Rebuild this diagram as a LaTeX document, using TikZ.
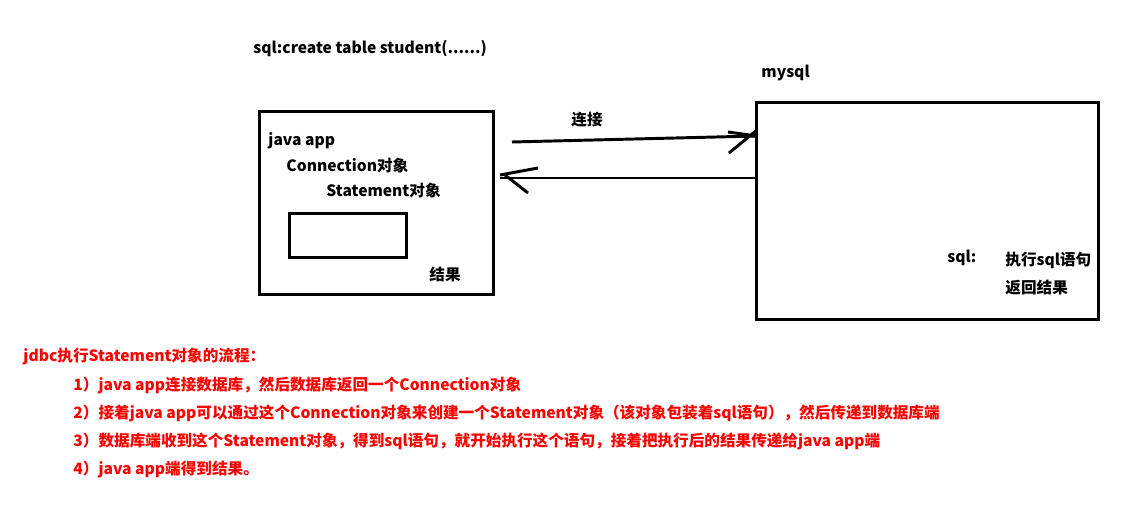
\documentclass[tikz,border=0pt]{standalone}
\usepackage{fontspec}
\setmainfont{Noto Sans CJK SC}
\usepackage{tikz}

\begin{document}
\begin{tikzpicture}[x=0.025cm, y=-0.025cm, line width=2.1pt, every node/.style={font=\fontsize{11.1}{13}\selectfont\bfseries, inner sep=0pt, anchor=west}, box/.style={draw, anchor=north west, inner sep=0pt}, note/.style={text=red}]
	\useasboundingbox (0,0) rectangle (1140,510);
	\node[box, minimum width=5.85cm, minimum height=4.575cm] (app) at (258,110) {};
	\node[box, minimum width=8.55cm, minimum height=5.425cm] (db) at (755,101) {};
	\node[box, minimum width=2.925cm, minimum height=1.1cm] (stmt) at (288,212) {};
	\node (sqltop) at (252,49) {sql:create table student(......)};
	\node (mysql) at (760,73) {mysql};
	\node (conlbl) at (570,120) {连接};
	\node (japp) at (267,141) {java app};
	\node (connobj) at (285,166) {Connection对象};
	\node (stmtobj) at (325,191) {Statement对象};
	\node (res) at (428,275) {结果};
	\node (sqlkey) at (946,258) {sql:};
	\node (exec) at (1004,260) {执行sql语句};
	\node (ret) at (1004,288) {返回结果};
	% hand drawn arrows
	\coordinate (go1) at (512,142);
	\coordinate (go2) at (757,136);
	\draw (go1) -- (go2);
	\draw (728,132) -- (go2);
	\draw (729,153) -- (757,130);
	\coordinate (back1) at (db.west |- 0,178);
	\coordinate (back2) at (500,178);
	\draw (back1) -- (back2);
	\draw (500,175) -- (538,168);
	\draw (505,175) -- (528,193);
	% notes
	\node[note] (title) at (22,357) {jdbc执行Statement对象的流程：};
	\foreach \i/\t in {1/{java app连接数据库，然后数据库返回一个Connection对象}, 2/{接着java app可以通过这个Connection对象来创建一个Statement对象（该对象包装着sql语句），然后传递到数据库端}, 3/{数据库端收到这个Statement对象，得到sql语句，就开始执行这个语句，接着把执行后的结果传递给java app端}, 4/{java app端得到结果。}} {\node[note] (step\i) at (72,{357+28*\i}) {\i）\t};}
\end{tikzpicture}
\end{document}
